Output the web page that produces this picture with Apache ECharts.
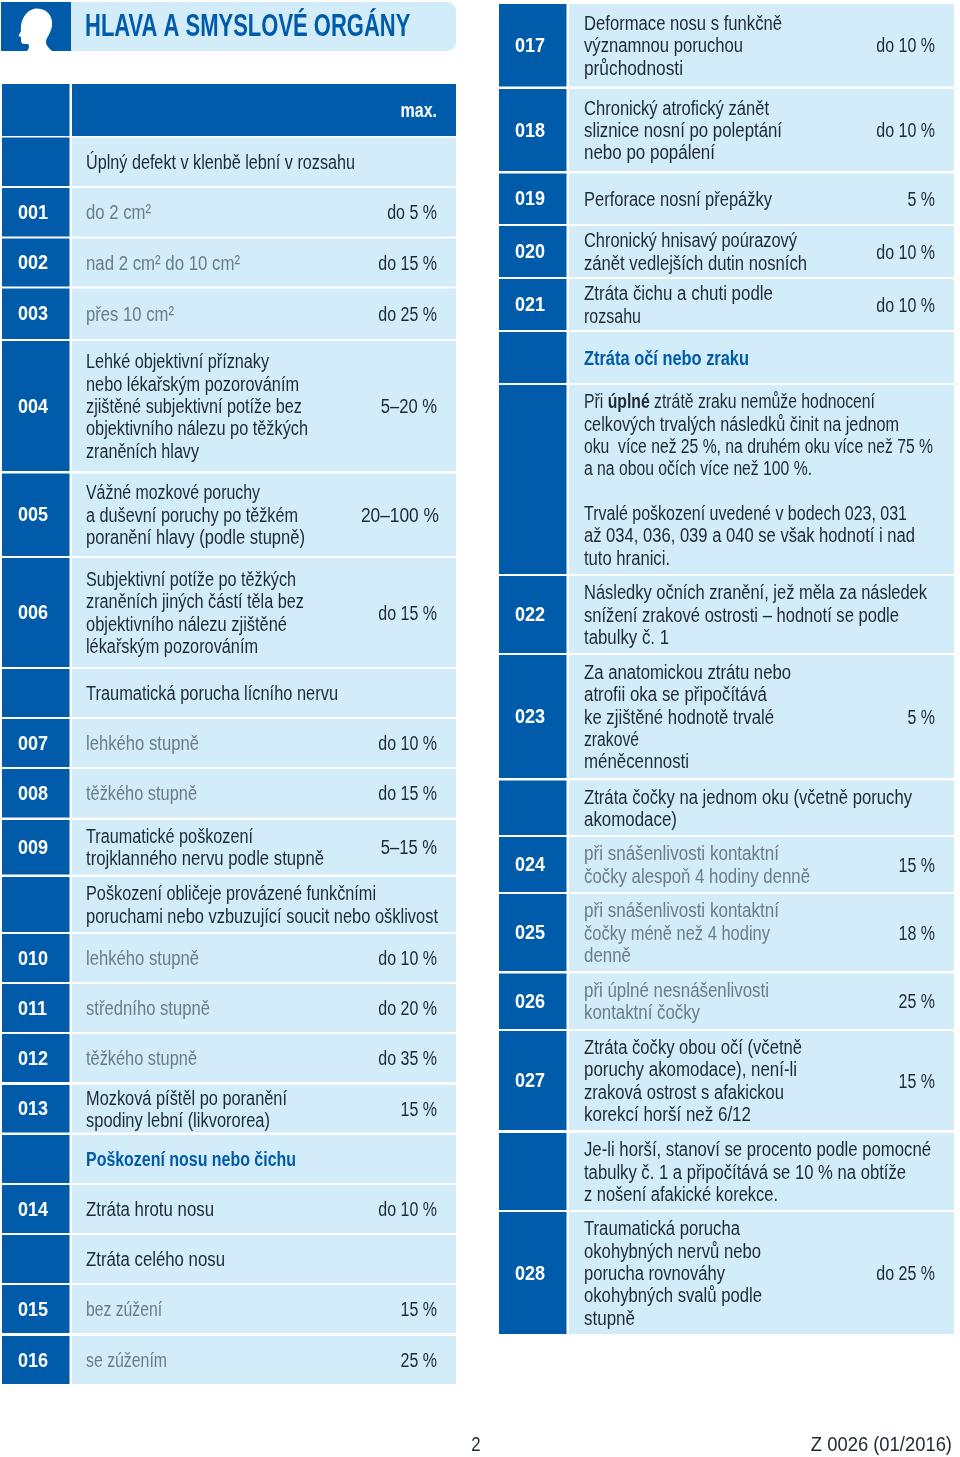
<!DOCTYPE html>
<html><head><meta charset="utf-8">
<style>html,body{margin:0;padding:0;background:#fff}#c{width:960px;height:1457px}</style>
<script src="https://cdn.jsdelivr.net/npm/echarts@6/dist/echarts.min.js"></script>
</head><body><div id="c"></div>
<script>
const pageTitle='HLAVA A SMYSLOVÉ ORGÁNY';
const pageNumber='2';
const formCode='Z 0026 (01/2016)';
const leftCodes=['','','001','002','003','004','005','006','','007','008','009','','010','011','012','013','','014','','015','016'];
const leftLabels=[[],['Úplný defekt v klenbě lební v rozsahu'],['do 2 cm²'],['nad 2 cm² do 10 cm²'],['přes 10 cm²'],
['Lehké objektivní příznaky','nebo lékařským pozorováním','zjištěné subjektivní potíže bez','objektivního nálezu po těžkých','zraněních hlavy'],
['Vážné mozkové poruchy','a duševní poruchy po těžkém','poranění hlavy (podle stupně)'],
['Subjektivní potíže po těžkých','zraněních jiných částí těla bez','objektivního nálezu zjištěné','lékařským pozorováním'],
['Traumatická porucha lícního nervu'],['lehkého stupně'],['těžkého stupně'],
['Traumatické poškození','trojklanného nervu podle stupně'],
['Poškození obličeje provázené funkčními','poruchami nebo vzbuzující soucit nebo ošklivost'],
['lehkého stupně'],['středního stupně'],['těžkého stupně'],
['Mozková píštěl po poranění','spodiny lební (likvororea)'],
['Poškození nosu nebo čichu'],['Ztráta hrotu nosu'],['Ztráta celého nosu'],['bez zúžení'],['se zúžením']];
const leftValues=['max.','','do 5 %','do 15 %','do 25 %','5–20 %','20–100 %','do 15 %','','do 10 %','do 15 %','5–15 %','','do 10 %','do 20 %','do 35 %','15 %','','do 10 %','','15 %','25 %'];
const rightCodes=['017','018','019','020','021','','','022','023','','024','025','026','027','','028'];
const rightLabels=[['Deformace nosu s funkčně','významnou poruchou','průchodnosti'],
['Chronický atrofický zánět','sliznice nosní po poleptání','nebo po popálení'],
['Perforace nosní přepážky'],
['Chronický hnisavý poúrazový','zánět vedlejších dutin nosních'],
['Ztráta čichu a chuti podle','rozsahu'],
['Ztráta očí nebo zraku'],
['Při úplné ztrátě zraku nemůže hodnocení','celkových trvalých následků činit na jednom','oku  více než 25 %, na druhém oku více než 75 %','a na obou očích více než 100 %.','','Trvalé poškození uvedené v bodech 023, 031','až 034, 036, 039 a 040 se však hodnotí i nad','tuto hranici.'],
['Následky očních zranění, jež měla za následek','snížení zrakové ostrosti – hodnotí se podle','tabulky č. 1'],
['Za anatomickou ztrátu nebo','atrofii oka se připočítává','ke zjištěné hodnotě trvalé','zrakové','méněcennosti'],
['Ztráta čočky na jednom oku (včetně poruchy','akomodace)'],
['při snášenlivosti kontaktní','čočky alespoň 4 hodiny denně'],
['při snášenlivosti kontaktní','čočky méně než 4 hodiny','denně'],
['při úplné nesnášenlivosti','kontaktní čočky'],
['Ztráta čočky obou očí (včetně','poruchy akomodace), není-li','zraková ostrost s afakickou','korekcí horší než 6/12'],
['Je-li horší, stanoví se procento podle pomocné','tabulky č. 1 a připočítává se 10 % na obtíže','z nošení afakické korekce.'],
['Traumatická porucha','okohybných nervů nebo','porucha rovnováhy','okohybných svalů podle','stupně']];
const rightValues=['do 10 %','do 10 %','5 %','do 10 %','do 10 %','','','','5 %','','15 %','18 %','25 %','15 %','','do 25 %'];

// layout (page scale) kept apart from the content
const leftRowEdges=[[84,136],[137.5,186],[188,236.5],[238.5,286.5],[288.5,339],[341,471],[473.5,556],[558,667],[669,717],[719,767],[769,817.5],[820,874.5],[877,932],[934,982],[984,1032],[1034,1082],[1085,1132.5],[1135,1183],[1185,1233],[1235,1283],[1285,1333],[1336,1384]];
const rightRowEdges=[[4,86.5],[89,171],[173.5,224],[226,277],[279,330],[332,383],[385,574],[576,653],[655,778],[780.5,835],[837,892],[894,971],[973.5,1029],[1031,1130],[1133,1210],[1212,1334]];
// right-hand end of every text line on the page, used to fit its width
const leftLineEnds=[[],[355],[151],[240],[174],[269,299,302,308,199],[260,298,305],[296,304,287,258],[338],[199],[197],[253,324],[376,438],[199],[210],[197],[287,270],[296],[214],[225],[162],[167]];
const rightLineEnds=[[782,743,683],[769,782,715],[772],[797,807],[773,641],[749],[875,899,933,812,0,907,915,670],[927,899,669],[791,767,774,639,689],[912,677],[779,810],[779,770,631],[769,700],[802,797,784,751],[931,906,778],[740,761,725,762,635]];
const leftCols={codeFrom:2,codeTo:69.5,bodyFrom:72,bodyTo:456,codeX:18,textX:86,valueX:437};
const rightCols={codeFrom:499,codeTo:566.5,bodyFrom:569,bodyTo:954,codeX:515,textX:584,valueX:935};
const leftGrey=[2,3,4,9,10,13,14,15,20,21], rightGrey=[10,11,12];
const leftHeadings=[17], rightHeadings=[5];
const DARK='#005BAA',LIGHT='#D2ECFA',INK='#1E2A33',GREY='#6C7C87';
const FONT='"Liberation Sans"';
const LINE=22.35, SIZE=20, SQUEEZE=0.8, DROP=1.5;
const ruler=document.createElement('canvas').getContext('2d');
function widthOf(text,font){ruler.font=font;return ruler.measureText(text).width;}

function squeezed(x,y,sx,style){
  return {type:'text',x:x,y:y,scaleX:sx,originX:0,originY:0,style:Object.assign({x:0,y:0,textVerticalAlign:'middle'},style)};
}
function tableRender(cols,edges,codes,labels,values,grey,headings,ends){
  return function(params,api){
    const i=params.dataIndex;
    const a=api.coord([cols.codeFrom,edges[i][0]]), b=api.coord([cols.codeTo,edges[i][1]]);
    const c=api.coord([cols.bodyFrom,edges[i][0]]), d=api.coord([cols.bodyTo,edges[i][1]]);
    const xT=api.coord([cols.textX,0])[0], xV=api.coord([cols.valueX,0])[0], xC=api.coord([cols.codeX,0])[0];
    const mid=(a[1]+b[1])/2+DROP;
    const isHead=labels[i].length===0;
    const kids=[
      {type:'rect',shape:{x:a[0],y:a[1],width:b[0]-a[0],height:b[1]-a[1]},style:{fill:DARK}},
      {type:'rect',shape:{x:c[0],y:c[1],width:d[0]-c[0],height:d[1]-c[1]},style:{fill:isHead?DARK:LIGHT}}
    ];
    if(codes[i]) kids.push(squeezed(xC,mid-0.5,0.88,{text:codes[i],fill:'#fff',font:'bold 20.5px '+FONT,textAlign:'left'}));
    const n=labels[i].length;
    labels[i].forEach((t,k)=>{
      if(!t) return;
      const y=mid+(k-(n-1)/2)*LINE;
      const hd=headings.includes(i), g=grey.includes(i);
      const font=(hd?'bold ':'')+SIZE+'px '+FONT;
      const bold=t.startsWith('Při úplné');
      const w=bold?widthOf('Při ',font)+widthOf('úplné','bold '+font)+widthOf(' ztrátě zraku nemůže hodnocení',font):widthOf(t,font);
      const sx=(ends[i][k]-cols.textX)/w;
      kids.push(squeezed(xT,y,sx,{
        text:bold?t.replace('úplné','{b|úplné}'):t,
        rich:{b:{font:'bold '+font,fill:INK}},
        fill:hd?DARK:(g?GREY:INK),font:font,textAlign:'left'}));
    });
    if(values[i]){
      const dash=values[i].includes('–'), wide=values[i]==='20–100 %';
      kids.push(squeezed(xV+(wide?2:0),mid,wide?0.867:(dash?0.83:SQUEEZE),{text:values[i],fill:isHead?'#fff':INK,
        font:(isHead?'bold ':'')+SIZE+'px '+FONT,textAlign:'right'}));
    }
    return {type:'group',children:kids};
  };
}
const HEAD='M27 51C30 48 29 45 28 44L24 44Q21 44 21 40L21 37L18.5 36L21 31C20 18 28 8.5 37 8.5C48 8.5 53 17 52 26C51 33 46 38 46 42C46 46 50 49 52 51Z';
function frameRender(params,api){
  const a=api.coord([1,2]),b=api.coord([71,51]),e=api.coord([456,51]);
  return {type:'group',children:[
    {type:'rect',shape:{x:b[0],y:a[1],width:e[0]-b[0],height:e[1]-a[1],r:[0,9,9,0]},style:{fill:LIGHT}},
    {type:'rect',shape:{x:a[0],y:a[1],width:b[0]-a[0],height:b[1]-a[1]},style:{fill:DARK}},
    {type:'path',shape:{pathData:HEAD},style:{fill:'#fff'}},
    squeezed(api.coord([85,0])[0],api.coord([0,27])[1],0.687,{text:pageTitle,fill:DARK,font:'bold 32px '+FONT}),
    squeezed(api.coord([476,0])[0],api.coord([0,1445])[1],0.84,{text:pageNumber,fill:INK,font:SIZE+'px '+FONT,textAlign:'center'}),
    squeezed(api.coord([952,0])[0],api.coord([0,1445])[1],0.92,{text:formCode,fill:INK,font:SIZE+'px '+FONT,textAlign:'right'})
  ]};
}
const chart=echarts.init(document.getElementById('c'),null,{renderer:'canvas'});
chart.setOption({
  animation:false,backgroundColor:'#fff',
  grid:{left:0,right:0,top:0,bottom:0},
  xAxis:{type:'value',min:0,max:960,show:false},
  yAxis:{type:'value',min:0,max:1457,inverse:true,show:false},
  series:[
    {type:'custom',name:'frame',coordinateSystem:'cartesian2d',data:[[0,0]],renderItem:frameRender,clip:false,silent:true},
    {type:'custom',name:'left',coordinateSystem:'cartesian2d',data:leftRowEdges.map(e=>[leftCols.codeFrom,e[0]]),renderItem:tableRender(leftCols,leftRowEdges,leftCodes,leftLabels,leftValues,leftGrey,leftHeadings,leftLineEnds),clip:false,silent:true},
    {type:'custom',name:'right',coordinateSystem:'cartesian2d',data:rightRowEdges.map(e=>[rightCols.codeFrom,e[0]]),renderItem:tableRender(rightCols,rightRowEdges,rightCodes,rightLabels,rightValues,rightGrey,rightHeadings,rightLineEnds),clip:false,silent:true}
  ]
});
</script></body></html>
